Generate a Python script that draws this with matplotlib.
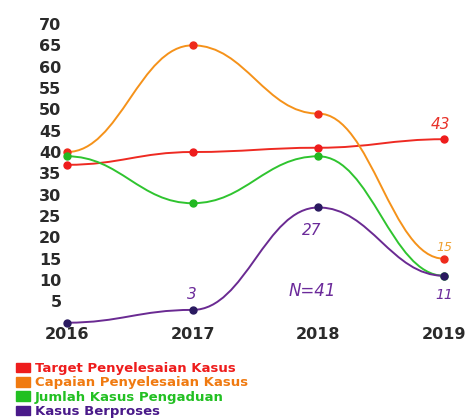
import matplotlib
matplotlib.use("Agg")
import matplotlib.pyplot as plt
from matplotlib.path import Path
from matplotlib.patches import PathPatch, Patch

years = [2016, 2017, 2018, 2019]
series_names = ["Target Penyelesaian Kasus", "Capaian Penyelesaian Kasus",
                "Jumlah Kasus Pengaduan", "Kasus Berproses"]
target = [37, 40, 41, 43]
capaian = [40, 65, 49, 15]
jumlah = [39, 28, 39, 11]
berproses = [0, 3, 27, 11]
yticks = [5, 10, 15, 20, 25, 30, 35, 40, 45, 50, 55, 60, 65, 70]

# handwritten notes: (text, x, y, color, size)
notes = [("43", 2018.97, 46.5, "#e8322a", 11),
         ("15", 2019.0, 17.7, "#f0a030", 9),
         ("11", 2019.0, 6.5, "#6b2a9a", 10),
         ("27", 2017.95, 21.7, "#6b2a9a", 11),
         ("N=41", 2017.95, 7.4, "#6b2a9a", 12),
         ("3", 2016.99, 6.7, "#6b2a9a", 11)]

line_colors = ["#ee2a22", "#f5921a", "#2fc42f", "#6a2a92"]
marker_colors = ["#ee1c1c", "#ee2a1c", "#22b822", "#2a1a60"]
legend_colors = ["#ee1c1c", "#f07a10", "#22c022", "#4a1a8a"]

fig = plt.figure(figsize=(4.69, 4.2), dpi=100)
ax = fig.add_axes([67/469, (420-322.7)/420, (444-67)/469, (322.7-24)/420])
ax.set_xlim(2016, 2019)
ax.set_ylim(0, 70)


def smooth_path(xs, ys, k=0.42):
    verts = [(xs[0], ys[0])]
    codes = [Path.MOVETO]
    for i in range(len(xs) - 1):
        dx = xs[i+1] - xs[i]
        verts += [(xs[i] + k*dx, ys[i]), (xs[i+1] - k*dx, ys[i+1]), (xs[i+1], ys[i+1])]
        codes += [Path.CURVE4] * 3
    return Path(verts, codes)


for vals, lc, mc in zip([target, capaian, jumlah, berproses], line_colors, marker_colors):
    patch = PathPatch(smooth_path(years, vals), facecolor="none", edgecolor=lc, lw=1.4, clip_on=False)
    ax.add_patch(patch)
    ax.plot(years, vals, ls="none", marker="o", ms=5, color=mc, clip_on=False, zorder=3)

for t, x, y, c, s in notes:
    ax.text(x, y, t, color=c, fontsize=s, style="italic", ha="center", va="center")

for s in ax.spines.values():
    s.set_visible(False)
ax.set_yticks(yticks)
ax.set_xticks(years)
ax.tick_params(length=0, labelsize=11.5, labelcolor="#2a2a2a")
ax.tick_params(axis="y", pad=4)
ax.tick_params(axis="x", pad=3)
for lab in ax.get_xticklabels() + ax.get_yticklabels():
    lab.set_fontweight("bold")

handles = [Patch(facecolor=c, edgecolor=c) for c in legend_colors]
fig.legend(handles, series_names, loc="upper left", bbox_to_anchor=(16/469, 1 - 362/420),
           frameon=False, handlelength=1.05, handleheight=0.75, handletextpad=0.4,
           labelspacing=0.1, borderaxespad=0, borderpad=0,
           prop={"weight": "bold", "size": 9.5}, labelcolor=legend_colors)

fig.savefig("out.png", dpi=100)
